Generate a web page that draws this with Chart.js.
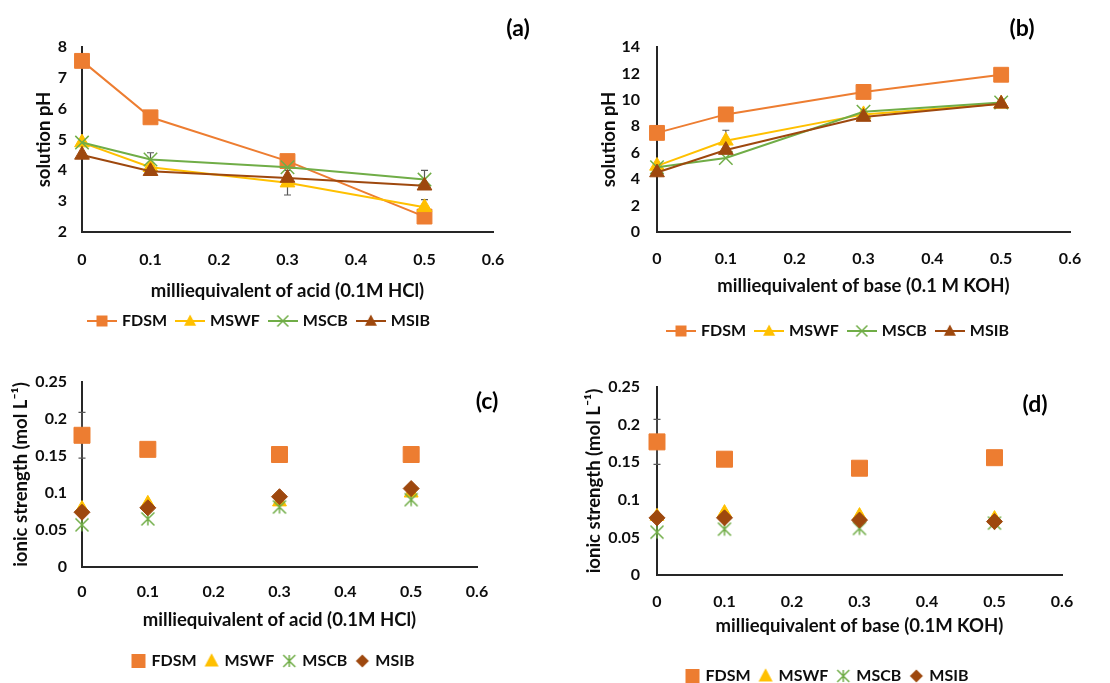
<!DOCTYPE html>
<html><head><meta charset="utf-8">
<script src="https://cdn.jsdelivr.net/npm/chart.js@4.4.1/dist/chart.umd.min.js"></script>
<style>
html,body{margin:0;padding:0;background:#fff;overflow:hidden;width:1110px;height:683px;}
canvas{position:absolute;}
.lab{position:absolute;font:bold 23px Lato,sans-serif;color:#000;transform:translate(-50%,-50%);white-space:nowrap;}
</style></head><body>
<canvas id="ca" width="520" height="340" style="left:0;top:0"></canvas>
<canvas id="cb" width="498" height="350" style="left:590px;top:0"></canvas>
<canvas id="cc" width="548" height="343" style="left:0;top:340px"></canvas>
<canvas id="cd" width="504" height="355" style="left:576px;top:340px"></canvas>
<div class="lab" style="left:518px;top:27px">(a)</div>
<div class="lab" style="left:1022px;top:27px">(b)</div>
<div class="lab" style="left:487px;top:400px">(c)</div>
<div class="lab" style="left:1035px;top:403px">(d)</div>
<script>
// ---------- data ----------
const xValues = [0, 0.1, 0.3, 0.5];
const seriesNames = ['FDSM', 'MSWF', 'MSCB', 'MSIB'];
const seriesColors = ['#ED7D31', '#FFC000', '#70AD47', '#9E480E'];
const xTickValues = [0, 0.1, 0.2, 0.3, 0.4, 0.5, 0.6];
const yTicksPHAcid = [2, 3, 4, 5, 6, 7, 8];
const yTicksPHBase = [0, 2, 4, 6, 8, 10, 12, 14];
const yTicksIonic = [0, 0.05, 0.1, 0.15, 0.2, 0.25];

// (a) solution pH vs acid
const phAcidFDSM = [7.55, 5.72, 4.3, 2.5];
const phAcidMSWF = [4.9, 4.1, 3.6, 2.8];
const phAcidMSCB = [4.9, 4.35, 4.1, 3.7];
const phAcidMSIB = [4.5, 3.97, 3.75, 3.5];
const errAcidMSWF = [0, 0, 0.4, 0.25];
const errAcidMSCB = [0, 0.22, 0, 0.3];
// (b) solution pH vs base
const phBaseFDSM = [7.5, 8.9, 10.6, 11.9];
const phBaseMSWF = [5.0, 6.9, 8.9, 9.7];
const phBaseMSCB = [4.9, 5.6, 9.1, 9.8];
const phBaseMSIB = [4.5, 6.2, 8.7, 9.7];
const errBaseMSWF = [0, 0.8, 0, 0];
// (c) ionic strength vs acid
const ionAcidFDSM = [0.178, 0.159, 0.152, 0.152];
const ionAcidMSWF = [0.079, 0.086, 0.088, 0.100];
const ionAcidMSCB = [0.057, 0.065, 0.081, 0.091];
const ionAcidMSIB = [0.074, 0.080, 0.095, 0.106];
const errIonAcidFDSM = [0.031, 0, 0, 0];
// (d) ionic strength vs base
const ionBaseFDSM = [0.177, 0.154, 0.142, 0.156];
const ionBaseMSWF = [0.078, 0.083, 0.079, 0.075];
const ionBaseMSCB = [0.057, 0.061, 0.062, 0.069];
const ionBaseMSIB = [0.076, 0.076, 0.073, 0.071];
const errIonBaseFDSM = [0.03, 0, 0, 0];

// ---------- helpers ----------
const FONT = 'Lato, sans-serif';
const TXT = '#0d0d0d';
const fmt = v => String(Math.round(v * 1000) / 1000);

function markerPath(ctx, kind, cx, cy, s) {
  ctx.beginPath();
  if (kind === 'square') { ctx.rect(cx - s / 2, cy - s / 2, s, s); }
  else if (kind === 'triangle') { ctx.moveTo(cx, cy - s * 0.55); ctx.lineTo(cx + s / 2, cy + s * 0.4); ctx.lineTo(cx - s / 2, cy + s * 0.4); ctx.closePath(); }
  else if (kind === 'diamond') { ctx.moveTo(cx, cy - s / 2); ctx.lineTo(cx + s / 2, cy); ctx.lineTo(cx, cy + s / 2); ctx.lineTo(cx - s / 2, cy); ctx.closePath(); }
  else if (kind === 'x') { ctx.moveTo(cx - s / 2, cy - s / 2); ctx.lineTo(cx + s / 2, cy + s / 2); ctx.moveTo(cx + s / 2, cy - s / 2); ctx.lineTo(cx - s / 2, cy + s / 2); }
  else if (kind === 'asterisk') { ctx.moveTo(cx - s / 2, cy - s / 2); ctx.lineTo(cx + s / 2, cy + s / 2); ctx.moveTo(cx + s / 2, cy - s / 2); ctx.lineTo(cx - s / 2, cy + s / 2); ctx.moveTo(cx, cy - s / 2); ctx.lineTo(cx, cy + s / 2); }
}
function iconCanvas(kind, color, withLine, size, w, h) {
  const c = document.createElement('canvas');
  c.width = w; c.height = h;
  const ctx = c.getContext('2d');
  if (withLine) { ctx.strokeStyle = color; ctx.lineWidth = 2; ctx.beginPath(); ctx.moveTo(0, h / 2); ctx.lineTo(w, h / 2); ctx.stroke(); }
  markerPath(ctx, kind, w / 2, h / 2, size);
  if (kind === 'x' || kind === 'asterisk') { ctx.strokeStyle = color; ctx.lineWidth = 1.5; ctx.stroke(); }
  else { ctx.fillStyle = color; ctx.fill(); }
  return c;
}
const asteriskPoint = iconCanvas('asterisk', seriesColors[2], false, 13, 16, 16);

const errorBarPlugin = {
  id: 'errorBars',
  beforeDatasetsDraw(chart) {
    const { ctx, scales: { x, y } } = chart;
    ctx.save();
    ctx.strokeStyle = '#595959'; ctx.lineWidth = 1.2;
    chart.data.datasets.forEach(ds => {
      if (!ds.errors) return;
      ds.data.forEach((pt, i) => {
        const e = ds.errors[i];
        if (!e) return;
        const px = x.getPixelForValue(pt.x);
        const y1 = y.getPixelForValue(pt.y + e), y2 = y.getPixelForValue(pt.y - e);
        ctx.beginPath();
        ctx.moveTo(px, y1); ctx.lineTo(px, y2);
        ctx.moveTo(px - 3.5, y1); ctx.lineTo(px + 3.5, y1);
        ctx.moveTo(px - 3.5, y2); ctx.lineTo(px + 3.5, y2);
        ctx.stroke();
      });
    });
    ctx.restore();
  }
};

function pts(vals) { return xValues.map((x, i) => ({ x, y: vals[i] })); }

function lineSeries(valsList, errsList) {
  const styles = [
    { ps: 'rect', r: 10.5, kind: 'square', s: 11 },
    { ps: 'triangle', r: 8.5, kind: 'triangle', s: 12 },
    { ps: 'crossRot', r: 9.5, kind: 'x', s: 11 },
    { ps: 'triangle', r: 8.5, kind: 'triangle', s: 12 }
  ];
  return valsList.map((vals, i) => ({
    label: seriesNames[i],
    data: pts(vals),
    errors: errsList[i],
    showLine: true,
    borderColor: seriesColors[i],
    backgroundColor: seriesColors[i],
    borderWidth: 2,
    pointStyle: styles[i].ps,
    pointRadius: styles[i].r,
    pointHoverRadius: styles[i].r,
    pointBackgroundColor: seriesColors[i],
    pointBorderColor: seriesColors[i],
    pointBorderWidth: styles[i].kind === 'x' ? 1.5 : 1,
    tension: 0,
    clip: false,
    order: 4 - i,
    legendIcon: iconCanvas(styles[i].kind, seriesColors[i], true, styles[i].s, 30, 16)
  }));
}
function scatterSeries(valsList, errsList) {
  const styles = [
    { ps: 'rect', r: 11.3, kind: 'square', s: 14 },
    { ps: 'triangle', r: 8, kind: 'triangle', s: 14 },
    { ps: asteriskPoint, r: 8, kind: 'asterisk', s: 12 },
    { ps: 'rectRot', r: 8, kind: 'diamond', s: 13 }
  ];
  return valsList.map((vals, i) => ({
    label: seriesNames[i],
    data: pts(vals),
    errors: errsList[i],
    showLine: false,
    borderColor: seriesColors[i],
    backgroundColor: seriesColors[i],
    pointStyle: styles[i].ps,
    pointRadius: styles[i].r,
    pointHoverRadius: styles[i].r,
    pointBackgroundColor: seriesColors[i],
    pointBorderColor: seriesColors[i],
    pointBorderWidth: 1,
    clip: false,
    order: 4 - i,
    legendIcon: iconCanvas(styles[i].kind, seriesColors[i], false, styles[i].s, 16, 16)
  }));
}

function makeChart(id, p) {
  const tickFont = { family: FONT, weight: 'bold', size: 16 };
  const titleFont = { family: FONT, weight: 'bold', size: 18.5 };
  new Chart(document.getElementById(id), {
    type: 'scatter',
    data: { datasets: p.datasets },
    plugins: [errorBarPlugin],
    options: {
      responsive: false, animation: false, devicePixelRatio: 1,
      layout: { padding: { left: 0, right: 0, top: p.areaTop, bottom: p.padBottom } },
      plugins: {
        tooltip: { enabled: false },
        legend: {
          position: 'bottom',
          labels: {
            usePointStyle: true,
            pointStyleWidth: p.iconW,
            boxHeight: 14,
            padding: p.legendPad,
            color: TXT,
            font: { family: FONT, weight: 'bold', size: 16 },
            generateLabels: chart => chart.data.datasets.map((ds, i) => ({
              text: ds.label, pointStyle: ds.legendIcon, datasetIndex: i,
              hidden: false, lineWidth: 0, fillStyle: 'rgba(0,0,0,0)', strokeStyle: 'rgba(0,0,0,0)', fontColor: TXT
            })),
            sort: (a, b) => a.datasetIndex - b.datasetIndex
          }
        }
      },
      scales: {
        x: {
          type: 'linear', min: 0, max: 0.6,
          afterBuildTicks: s => { s.ticks = xTickValues.map(v => ({ value: v })); },
          afterFit: s => {
            const lg = s.chart.legend;
            const lh = lg && lg.height ? lg.height : 40;
            s.height = Math.max(10, s.chart.height - p.padBottom - lh - p.areaBottom);
            s.paddingLeft = 0; s.paddingRight = p.rightInset;
          },
          ticks: { font: tickFont, color: TXT, padding: p.xTickPad, maxRotation: 0, autoSkip: false, callback: v => fmt(v) },
          grid: { display: false, drawTicks: false },
          border: { display: true, color: '#262626', width: 2 },
          title: { display: true, text: p.xTitle, font: titleFont, color: TXT, padding: { top: 0, bottom: p.xTitlePad } }
        },
        y: {
          type: 'linear', min: p.yTicks[0], max: p.yTicks[p.yTicks.length - 1],
          afterBuildTicks: s => { s.ticks = p.yTicks.map(v => ({ value: v })); },
          afterFit: s => { s.width = p.yw; s.paddingTop = 0; s.paddingBottom = 0; },
          ticks: { font: tickFont, color: TXT, padding: p.yTickPad, autoSkip: false, callback: v => fmt(v) },
          grid: { display: false, drawTicks: false },
          border: { display: true, color: '#262626', width: 2 },
          title: { display: true, text: p.yTitle, font: titleFont, color: TXT, padding: { top: p.yTitlePad, bottom: 0 } }
        }
      }
    }
  });
}

makeChart('ca', {
  datasets: lineSeries([phAcidFDSM, phAcidMSWF, phAcidMSCB, phAcidMSIB], [null, errAcidMSWF, errAcidMSCB, null]),
  areaTop: 47, areaBottom: 232, padBottom: 1, rightInset: 27,
  yw: 82, yTitlePad: 33, xTickPad: 18, yTickPad: 15, xTitlePad: 0,
  iconW: 24, legendPad: 11,
  yTicks: yTicksPHAcid,
  xTitle: 'milliequivalent of acid (0.1M HCl)', yTitle: 'solution pH'
});
makeChart('cb', {
  datasets: lineSeries([phBaseFDSM, phBaseMSWF, phBaseMSCB, phBaseMSIB], [null, errBaseMSWF, null, null]),
  areaTop: 47, areaBottom: 232, padBottom: 1, rightInset: 18,
  yw: 67, yTitlePad: 8, xTickPad: 17, yTickPad: 17, xTitlePad: 15,
  iconW: 24, legendPad: 11,
  yTicks: yTicksPHBase,
  xTitle: 'milliequivalent of base (0.1 M KOH)', yTitle: 'solution pH'
});
makeChart('cc', {
  datasets: scatterSeries([ionAcidFDSM, ionAcidMSWF, ionAcidMSCB, ionAcidMSIB], [errIonAcidFDSM, null, null, null]),
  areaTop: 42, areaBottom: 227, padBottom: 4, rightInset: 71,
  yw: 82, yTitlePad: 10, xTickPad: 15, yTickPad: 15, xTitlePad: 12,
  iconW: 10, legendPad: 10,
  yTicks: yTicksIonic,
  xTitle: 'milliequivalent of acid (0.1M HCl)', yTitle: 'ionic strength (mol L\u207B\u00B9)'
});
makeChart('cd', {
  datasets: scatterSeries([ionBaseFDSM, ionBaseMSWF, ionBaseMSCB, ionBaseMSIB], [errIonBaseFDSM, null, null, null]),
  areaTop: 47, areaBottom: 235, padBottom: 1, rightInset: 18,
  yw: 81, yTitlePad: 7, xTickPad: 17, yTickPad: 17, xTitlePad: 21,
  iconW: 10, legendPad: 10,
  yTicks: yTicksIonic,
  xTitle: 'milliequivalent of base (0.1M KOH)', yTitle: 'ionic strength (mol L\u207B\u00B9)'
});
</script>
</body></html>
